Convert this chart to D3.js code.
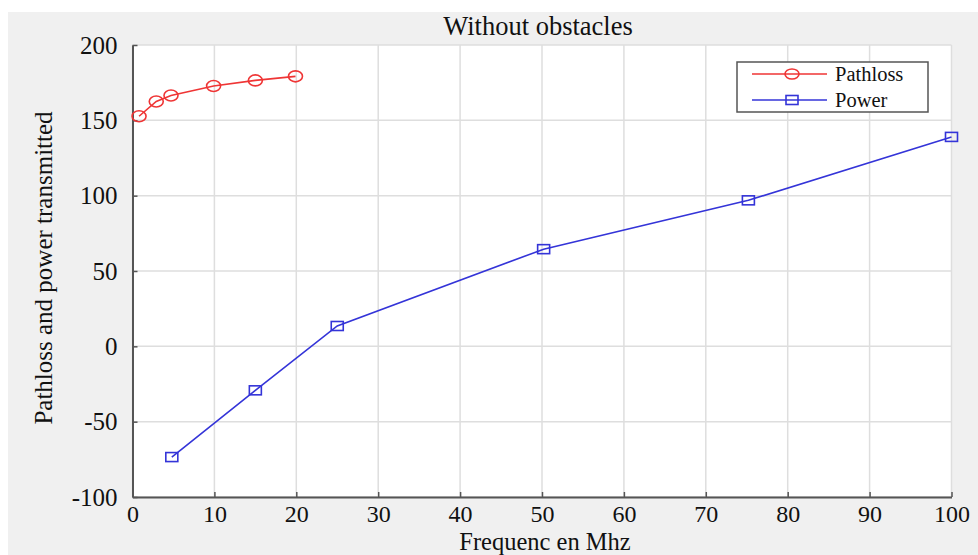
<!DOCTYPE html>
<html><head><meta charset="utf-8">
<script src="https://cdn.jsdelivr.net/npm/d3@7"></script>
<style>html,body{margin:0;padding:0;background:#fff;}svg{display:block;}</style>
</head><body>
<svg id="chart" width="978" height="555"></svg>
<script>
const pathlossX = [0.8, 2.9, 4.7, 9.9, 15, 19.9];
const pathlossY = [152.7, 162.5, 166.5, 172.8, 176.5, 179.2];
const powerX = [4.8, 15, 25, 50.2, 75.2, 100];
const powerY = [-73.5, -29.2, 13.5, 64.5, 96.9, 139];
const xTicks = [0, 10, 20, 30, 40, 50, 60, 70, 80, 90, 100];
const yTicks = [-100, -50, 0, 50, 100, 150, 200];
const seriesNames = ["Pathloss", "Power"];
const titleText = "Without obstacles";
const xLabel = "Frequenc en Mhz";
const yLabel = "Pathloss and power transmitted";

const svg = d3.select("#chart");
const font = "'Liberation Serif','Times New Roman',serif";
const L = 132.5, R = 951.5, T = 45, B = 497;

svg.append("rect").attr("x", 8).attr("y", 12).attr("width", 970).attr("height", 543).attr("fill", "#f0f0f0");
svg.append("rect").attr("x", L).attr("y", T).attr("width", R - L).attr("height", B - T).attr("fill", "#fff");

const x = d3.scaleLinear().domain([0, 100]).range([L, R]);
const y = d3.scaleLinear().domain([-100, 200]).range([B, T]);

// grid
svg.append("g").selectAll("line").data(xTicks).join("line")
  .attr("x1", d => x(d)).attr("x2", d => x(d)).attr("y1", T).attr("y2", B)
  .attr("stroke", "#dedede").attr("stroke-width", 1.5);
svg.append("g").selectAll("line").data(yTicks).join("line")
  .attr("x1", L).attr("x2", R).attr("y1", d => y(d)).attr("y2", d => y(d))
  .attr("stroke", "#dedede").attr("stroke-width", 1.5);

const fmt = d => String(d);
// axes
const xAxis = svg.append("g").attr("transform", `translate(0,${B})`)
  .call(d3.axisBottom(x).tickValues(xTicks).tickFormat(fmt).tickSizeInner(-5).tickSizeOuter(0).tickPadding(8));
const yAxis = svg.append("g").attr("transform", `translate(${L},0)`)
  .call(d3.axisLeft(y).tickValues(yTicks).tickFormat(fmt).tickSizeInner(-5).tickSizeOuter(0).tickPadding(15));
[xAxis, yAxis].forEach(g => {
  g.select(".domain").attr("stroke", "#555").attr("stroke-width", 2);
  g.selectAll(".tick line").attr("stroke", "#555").attr("stroke-width", 1.5);
  g.selectAll(".tick text").attr("font-family", font).attr("font-size", 25).attr("fill", "#111");
});
xAxis.selectAll(".tick text").attr("font-size", 24).attr("dy", "0.72em");
yAxis.selectAll(".tick text").attr("dy", "0.33em");

// lines
const line = d3.line().x(d => x(d[0])).y(d => y(d[1]));
const pl = pathlossX.map((v, i) => [v, pathlossY[i]]);
const pw = powerX.map((v, i) => [v, powerY[i]]);
const red = "#ef3535", blue = "#3434d8";
svg.append("path").datum(pl).attr("d", line).attr("fill", "none").attr("stroke", red).attr("stroke-width", 1.6);
svg.append("path").datum(pw).attr("d", line).attr("fill", "none").attr("stroke", blue).attr("stroke-width", 1.6);
svg.append("g").selectAll("ellipse").data(pl).join("ellipse")
  .attr("cx", d => x(d[0])).attr("cy", d => y(d[1])).attr("rx", 7).attr("ry", 5.5)
  .attr("fill", "none").attr("stroke", red).attr("stroke-width", 1.6);
svg.append("g").selectAll("rect").data(pw).join("rect")
  .attr("x", d => x(d[0]) - 6).attr("y", d => y(d[1]) - 4.5).attr("width", 12).attr("height", 9)
  .attr("fill", "none").attr("stroke", blue).attr("stroke-width", 1.6);

// title & labels
svg.append("text").attr("x", 538).attr("y", 35).attr("text-anchor", "middle")
  .attr("font-family", font).attr("font-size", 26.5).attr("fill", "#111").text(titleText);
svg.append("text").attr("x", 545).attr("y", 549.5).attr("text-anchor", "middle")
  .attr("font-family", font).attr("font-size", 24.5).attr("fill", "#111").text(xLabel);
svg.append("text").attr("transform", "translate(52,268) rotate(-90)").attr("text-anchor", "middle")
  .attr("font-family", font).attr("font-size", 25).attr("fill", "#111").text(yLabel);

// legend
const lg = svg.append("g");
lg.append("rect").attr("x", 737).attr("y", 62).attr("width", 191).attr("height", 50)
  .attr("fill", "#fff").attr("stroke", "#555").attr("stroke-width", 1.5);
const legY = [74, 100];
[red, blue].forEach((c, i) => {
  lg.append("line").attr("x1", 752).attr("x2", 827).attr("y1", legY[i]).attr("y2", legY[i]).attr("stroke", c).attr("stroke-width", 1.6);
  if (i === 0) lg.append("ellipse").attr("cx", 792).attr("cy", legY[i]).attr("rx", 7).attr("ry", 5).attr("fill", "none").attr("stroke", c).attr("stroke-width", 1.6);
  else lg.append("rect").attr("x", 786).attr("y", legY[i] - 4.5).attr("width", 12).attr("height", 9).attr("fill", "none").attr("stroke", c).attr("stroke-width", 1.6);
  lg.append("text").attr("x", 835).attr("y", legY[i]).attr("dy", "0.35em").attr("font-family", font).attr("font-size", 20.5).attr("fill", "#111").text(seriesNames[i]);
});
</script>
</body></html>
